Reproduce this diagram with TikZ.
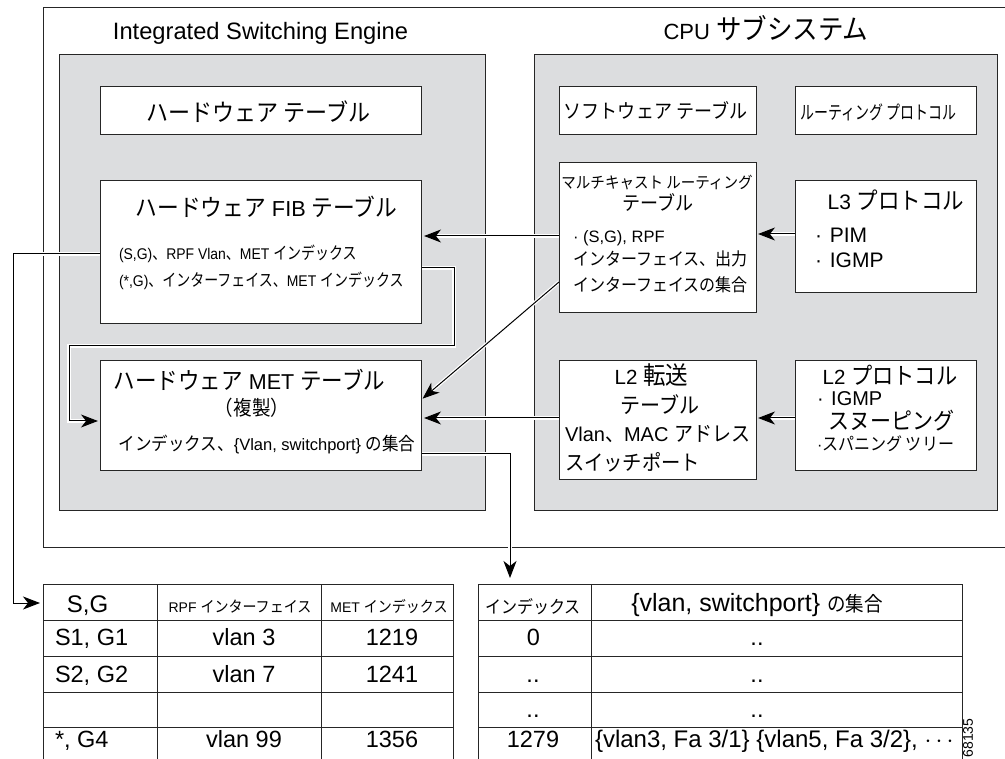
\documentclass[tikz,border=0pt]{standalone}
\usepackage{fontspec}
\usepackage{graphicx}
\setmainfont{Liberation Sans}
\newfontfamily\jp[FakeStretch=0.91,Scale=1.1]{Noto Sans CJK JP}
\usetikzlibrary{arrows.meta,calc}
\newcommand\fs[1]{\fontsize{#1}{#1}\selectfont}
\newcommand\J[2][]{{\ifx\relax#1\relax\else\fs{#1}\fi\jp #2}}
\newcommand\nar[2]{\scalebox{#1}[1]{#2}}
\definecolor{panel}{RGB}{220,221,223}
\begin{document}
\begin{tikzpicture}[x=1pt,y=-1pt,
  box/.style={draw=black!85, line width=1pt, fill=white, inner sep=0pt, outer sep=0pt, anchor=north west},
  panelbox/.style={box, fill=panel},
  txt/.style={inner sep=0pt, outer sep=0pt},
  conn/.style={draw=black, line width=1pt, preaction={draw=white, line width=3.5pt}},
  arr/.style={conn, -{Stealth[length=17pt,width=13pt,inset=5pt]}},
  grid/.style={draw=black!85, line width=1pt}]
\useasboundingbox (0,0) rectangle (1005,759);
\clip (0,0) rectangle (1005,759);
\fill[white] (0,0) rectangle (1005,759);

% outer frame and panels
\node[box, minimum width=1000pt, minimum height=539pt] (outer) at (43,8) {};
\node[panelbox, minimum width=426pt, minimum height=455pt] (ise) at (59,55) {};
\node[panelbox, minimum width=463pt, minimum height=455pt] (cpu) at (534,55) {};

% inner box outlines used by the connectors (drawn later)
\begin{scope}[every node/.style={box, draw=none, fill=none}]
\node[minimum width=321pt, minimum height=143pt] (fib) at (100,181) {};
\node[minimum width=321pt, minimum height=110pt] (met) at (100,361) {};
\node[minimum width=197pt, minimum height=150pt] (mrt) at (559,163) {};
\node[minimum width=181pt, minimum height=112pt] (l3) at (795,181) {};
\node[minimum width=197pt, minimum height=119pt] (l2f) at (559,361) {};
\node[minimum width=181pt, minimum height=110pt] (l2p) at (795,361) {};
\end{scope}
\coordinate (t1in) at (43,603);
\coordinate (t2top) at (510,584);

% connectors
\draw[arr, shorten >=2pt] (l3.west |- 0,234) -- (mrt.east |- 0,234);
\draw[arr, shorten >=3pt] (mrt.west |- 0,236) -- (fib.east |- 0,236);
\draw[arr, shorten >=2pt] (mrt.west |- 0,282) -- (met.east |- 0,400);
\draw[arr, shorten >=3pt] (l2f.west |- 0,418) -- (met.east |- 0,418);
\draw[arr, shorten >=2pt] (l2p.west |- 0,418) -- (l2f.east |- 0,418);
\draw[arr, shorten >=2pt] (fib.east |- 0,268) -| (454,346) -| (69,421) -- (met.west |- 0,421);
\draw[arr, shorten >=3pt] (fib.west |- 0,254) -| (13,603) -- (t1in);
\draw[arr, shorten >=6pt] (met.east |- 0,454) -| (t2top);

% inner boxes
\node[box, minimum width=321pt, minimum height=48pt] (hw) at (100,87) {};
\node[box, minimum width=321pt, minimum height=143pt] (fibb) at (100,181) {};
\node[box, minimum width=321pt, minimum height=110pt] (metb) at (100,361) {};
\node[box, minimum width=197pt, minimum height=48pt] (sw) at (559,87) {};
\node[box, minimum width=181pt, minimum height=48pt] (rp) at (795,87) {};
\node[box, minimum width=197pt, minimum height=150pt] (mrtb) at (559,163) {};
\node[box, minimum width=181pt, minimum height=112pt] (l3b) at (795,181) {};
\node[box, minimum width=197pt, minimum height=119pt] (l2fb) at (559,361) {};
\node[box, minimum width=181pt, minimum height=110pt] (l2pb) at (795,361) {};

% titles
\node[txt, anchor=base, font=\fs{23.7}] (tise) at (260.5,40) {Integrated Switching Engine};
\node[txt, anchor=base, font=\fs{22}] (tcpu) at (766,40) {CPU \J[25.5]{サブシステム}};

% left panel texts
\node[txt, font=\fs{22}] (thw) at (258.5,111.5) {\J{ハードウェア テーブル}};
\node[txt, anchor=base, font=\fs{21.7}] (tfib) at (266.5,217) {\J{ハードウェア} FIB \J{テーブル}};
\node[txt, anchor=base west, font=\fs{15.5}] (tfib1) at (119,260) {\nar{0.9}{(S,G)\J{、}RPF Vlan\J{、}MET \J{インデックス}}};
\node[txt, anchor=base west, font=\fs{15.5}] (tfib2) at (119,287) {\nar{0.9}{(*,G)\J{、インターフェイス、}MET \J{インデックス}}};
\node[txt, anchor=base, font=\fs{21.5}] (tmet) at (249.5,390) {\J{ハードウェア} MET \J{テーブル}};
\node[txt, font=\fs{18.5}] (tmet1) at (252,408) {\J{（複製）}};
\node[txt, anchor=base, font=\fs{16.5}] (tmet2) at (267,450) {\J{インデックス、}\{Vlan, switchport\} \J{の集合}};

% right panel texts
\node[txt, font=\fs{18}] (tsw) at (655.5,110) {\J{ソフトウェア テーブル}};
\node[txt, font=\fs{17}] (trp) at (878.5,112) {\nar{0.82}{\J{ルーティング プロトコル}}};
\node[txt, font=\fs{14.5}] (tmrt1) at (657,183) {\J{マルチキャスト ルーティング}};
\node[txt, font=\fs{18}] (tmrt2) at (658,202) {\J{テーブル}};
\node[txt, anchor=base west, font=\fs{16.5}] (tmrt3) at (573,243) {· (S,G), RPF};
\node[txt, anchor=west, font=\fs{16}] (tmrt4) at (573,259) {\J{インターフェイス、出力}};
\node[txt, anchor=west, font=\fs{16}] (tmrt5) at (573,285) {\J{インターフェイスの集合}};
\node[txt, anchor=base, font=\fs{21}] (tl31) at (896,210) {L3 \J[21.5]{プロトコル}};
\node[txt, anchor=base west, font=\fs{21}] (tl32) at (815,243) {·\hspace{2pt} PIM};
\node[txt, anchor=base west, font=\fs{21}] (tl33) at (815,268) {·\hspace{2pt} IGMP};
\node[txt, anchor=base, font=\fs{20.5}] (tl2f1) at (651.5,385) {L2 \J[22.5]{転送}};
\node[txt, font=\fs{20}] (tl2f2) at (660,405) {\J{テーブル}};
\node[txt, anchor=base west, font=\fs{20}] (tl2f3) at (565,442) {Vlan\J[19]{、}MAC \J[19]{アドレス}};
\node[txt, anchor=west, font=\fs{19.3}] (tl2f4) at (565,462) {\J{スイッチポート}};
\node[txt, anchor=base, font=\fs{20.5}] (tl2p1) at (890,385) {L2 \J[21.2]{プロトコル}};
\node[txt, anchor=base west, font=\fs{20}] (tl2p2) at (817,406) {·\hspace{2pt} IGMP};
\node[txt, anchor=west, font=\fs{21}] (tl2p3) at (828,421) {\J{スヌーピング}};
\node[txt, anchor=west, font=\fs{16}] (tl2p4) at (817,444) {·\J{スパニング ツリー}};

% table 1 grid
\draw[grid] (43,584) -- (453,584) (43,620) -- (453,620) (43,656) -- (453,656)
  (43,692) -- (453,692) (43,727) -- (453,727);
\draw[grid] (43,584) -- (43,770) (157,584) -- (157,770) (321,584) -- (321,770) (453,584) -- (453,770);
% table 2 grid
\draw[grid] (478,584) -- (962,584) (478,620) -- (962,620) (478,656) -- (962,656)
  (478,692) -- (962,692) (478,727) -- (962,727);
\draw[grid] (478,584) -- (478,770) (591,584) -- (591,770) (962,584) -- (962,770);

% table 1 texts
\node[txt, anchor=base, font=\fs{24}] (a0) at (87.5,612) {S,G};
\node[txt, anchor=base, font=\fs{14}] (b0) at (240,612) {RPF \J{インターフェイス}};
\node[txt, anchor=base, font=\fs{14}] (c0) at (389,612) {MET \J{インデックス}};
\node[txt, anchor=base west, font=\fs{23.5}] (a1) at (55,645) {S1, G1};
\node[txt, anchor=base, font=\fs{23.5}] (b1) at (244,645) {vlan 3};
\node[txt, anchor=base, font=\fs{23.5}] (c1) at (392,645) {1219};
\node[txt, anchor=base west, font=\fs{23.5}] (a2) at (55,682) {S2, G2};
\node[txt, anchor=base, font=\fs{23.5}] (b2) at (244,682) {vlan 7};
\node[txt, anchor=base, font=\fs{23.5}] (c2) at (392,682) {1241};
\node[txt, anchor=base west, font=\fs{23.5}] (a4) at (55,747) {*, G4};
\node[txt, anchor=base, font=\fs{23.5}] (b4) at (244,747) {vlan 99};
\node[txt, anchor=base, font=\fs{23.5}] (c4) at (392,747) {1356};

% table 2 texts
\node[txt, font=\fs{16}] (d0) at (533,607) {\J{インデックス}};
\node[txt, anchor=base, font=\fs{25}] (e0) at (757,611) {\{vlan, switchport\} \J[18.5]{の集合}};
\node[txt, anchor=base, font=\fs{23.5}] (d1) at (533.5,645) {0};
\node[txt, anchor=base, font=\fs{23.5}] (e1) at (757,645) {..};
\node[txt, anchor=base, font=\fs{23.5}] (d2) at (533,682) {..};
\node[txt, anchor=base, font=\fs{23.5}] (e2) at (757,682) {..};
\node[txt, anchor=base, font=\fs{23.5}] (d3) at (533,717) {..};
\node[txt, anchor=base, font=\fs{23.5}] (e3) at (757,717) {..};
\node[txt, anchor=base, font=\fs{23.5}] (d4) at (533,747) {1279};
\node[txt, anchor=base west, font=\fs{24}] (e4) at (595,747) {\{vlan3, Fa 3/1\} \{vlan5, Fa 3/2\}, $\cdots$};

\node[txt, rotate=90, font=\fs{14}] (fig) at (968,738) {68135};
\end{tikzpicture}
\end{document}
